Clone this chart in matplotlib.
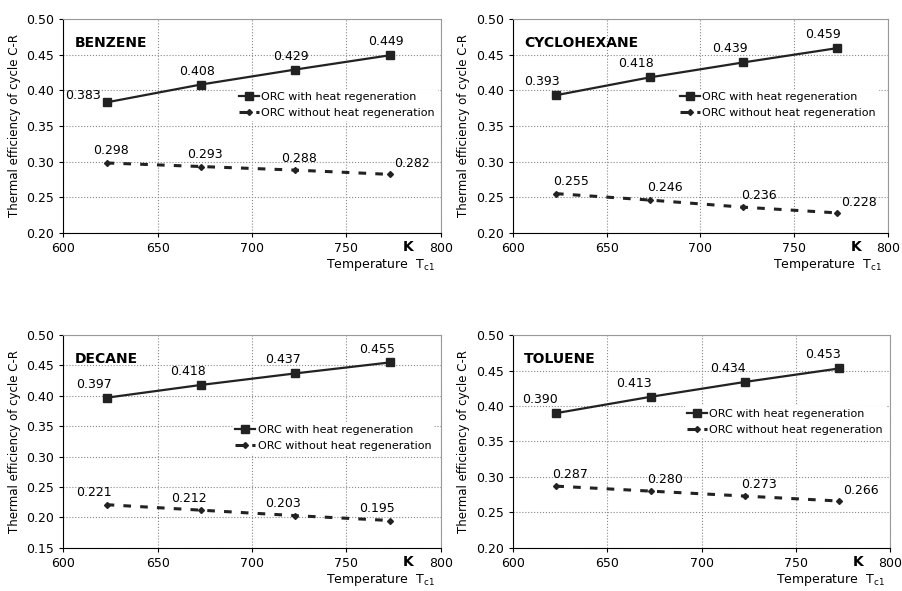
import numpy as np
import matplotlib
matplotlib.use("Agg")
import matplotlib.pyplot as plt

# temperaturas T_c1 (K)
temperaturas = [623, 673, 723, 773]

# eficiencias por fluido
benceno_con = [0.383, 0.408, 0.429, 0.449]
benceno_sin = [0.298, 0.293, 0.288, 0.282]
ciclohexano_con = [0.393, 0.418, 0.439, 0.459]
ciclohexano_sin = [0.255, 0.246, 0.236, 0.228]
decano_con = [0.397, 0.418, 0.437, 0.455]
decano_sin = [0.221, 0.212, 0.203, 0.195]
tolueno_con = [0.390, 0.413, 0.434, 0.453]
tolueno_sin = [0.287, 0.280, 0.273, 0.266]

nombres = ["BENZENE", "CYCLOHEXANE", "DECANE", "TOLUENE"]
ylims = [(0.20, 0.50), (0.20, 0.50), (0.15, 0.50), (0.20, 0.50)]

fig = plt.figure(figsize=(9.03, 5.91), dpi=100)
posiciones = [
    [0.070, 0.606, 0.418, 0.362],
    [0.568, 0.606, 0.415, 0.362],
    [0.070, 0.073, 0.418, 0.360],
    [0.568, 0.073, 0.418, 0.360],
]
datos = [
    (benceno_con, benceno_sin),
    (ciclohexano_con, ciclohexano_sin),
    (decano_con, decano_sin),
    (tolueno_con, tolueno_sin),
]
# desplazamiento horizontal de etiquetas (puntos)
dx_con = [-3, -10, -9, -12]
dx_sin = [3, 11, -9, 10]
leyenda_pos = [(0.46, 0.67), (0.44, 0.67), (0.45, 0.59), (0.455, 0.665)]

for i in range(4):
    ax = fig.add_axes(posiciones[i])
    con, sin = datos[i]
    ax.plot(temperaturas, con, color="#222222", lw=1.6, marker="s", ms=6,
            label="ORC with heat regeneration", zorder=3)
    ax.plot(temperaturas, sin, color="#222222", lw=2.2, ls=(0, (2.5, 3)),
            marker="D", ms=3, label="ORC without heat regeneration", zorder=3)

    # etiquetas de valores
    for j in range(4):
        if i == 0 and j == 0:
            ax.annotate(f"{con[j]:.3f}", (temperaturas[j], con[j]), xytext=(-4, 0),
                        textcoords="offset points", ha="right", va="bottom", fontsize=9)
        else:
            ax.annotate(f"{con[j]:.3f}", (temperaturas[j], con[j]), xytext=(dx_con[i], 5),
                        textcoords="offset points", ha="center", va="bottom", fontsize=9)
        if j == 3 and i != 2:
            ax.annotate(f"{sin[j]:.3f}", (temperaturas[j], sin[j]), xytext=(3, 3),
                        textcoords="offset points", ha="left", va="bottom", fontsize=9)
        else:
            ax.annotate(f"{sin[j]:.3f}", (temperaturas[j], sin[j]), xytext=(dx_sin[i], 4),
                        textcoords="offset points", ha="center", va="bottom", fontsize=9)

    ax.set_xlim(600, 800)
    ax.set_ylim(*ylims[i])
    ax.set_xticks([600, 650, 700, 750, 800])
    ax.set_yticks(np.arange(ylims[i][0], 0.5001, 0.05))
    ax.yaxis.set_major_formatter(matplotlib.ticker.FormatStrFormatter("%.2f"))
    ax.tick_params(labelsize=9, length=3, direction="out")
    ax.grid(True, color="#888888", ls=":", lw=0.8)
    ax.spines["top"].set_color("#999999")
    ax.spines["right"].set_color("#999999")
    ax.set_ylabel("Thermal efficiency of cycle C-R", fontsize=8.5, labelpad=4)

    ax.text(0.03, 0.92, nombres[i], transform=ax.transAxes, fontsize=10,
            fontweight="bold", va="top", ha="left")
    ax.text(783, -0.065, "K", transform=ax.get_xaxis_transform(), fontsize=10,
            fontweight="bold", ha="center", va="center")
    ax.text(0.985, -0.15, r"Temperature  T$_{\rm c1}$", transform=ax.transAxes,
            fontsize=9, ha="right", va="center")

    leg = ax.legend(loc="upper left", bbox_to_anchor=leyenda_pos[i], fontsize=8,
                    frameon=True, framealpha=1, edgecolor="white", fancybox=False,
                    handlelength=1.8, borderpad=0.2, labelspacing=0.55, handletextpad=0.2,
                    borderaxespad=0)

fig.savefig("out.png", dpi=100)
